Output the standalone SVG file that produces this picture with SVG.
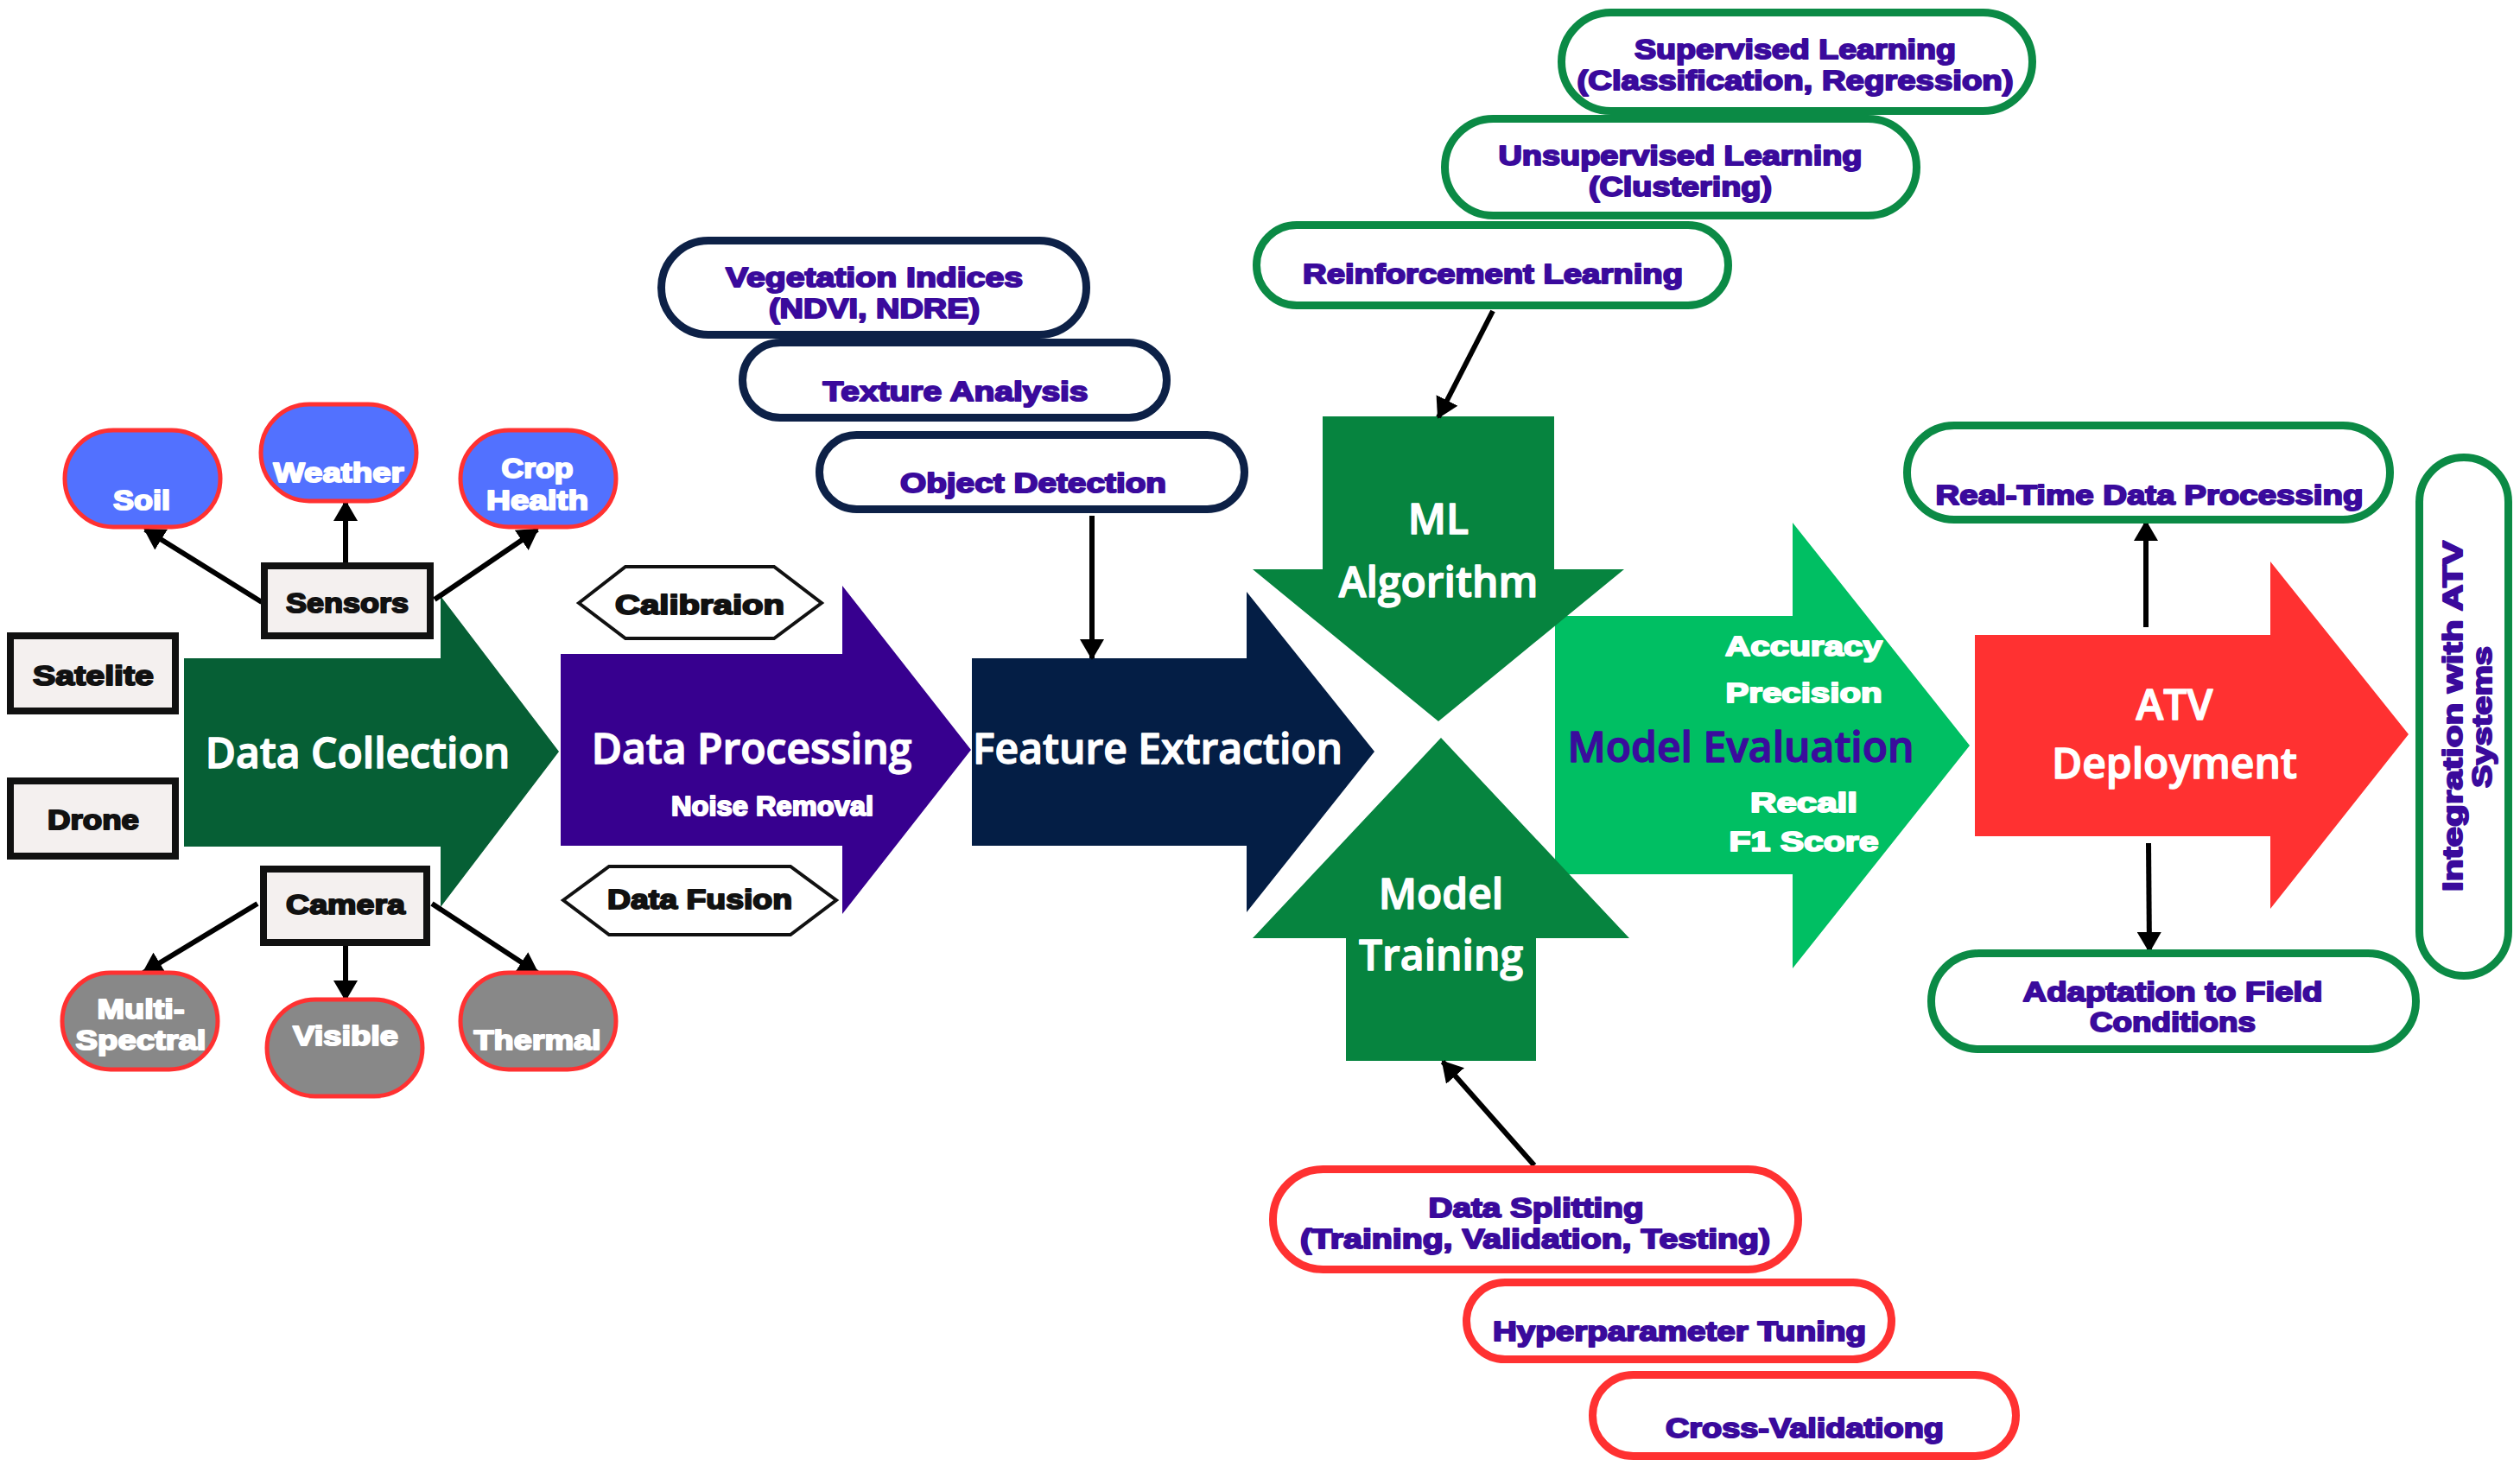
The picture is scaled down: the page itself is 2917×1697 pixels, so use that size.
<svg xmlns="http://www.w3.org/2000/svg" width="2917" height="1697" viewBox="0 0 2917 1697">
<defs>
<style>
.big{font-family:"Open Sans","Noto Sans","Liberation Sans",sans-serif;font-weight:600;font-size:48px;fill:#fff;stroke:#fff;stroke-width:1.4;stroke-linejoin:round;text-anchor:middle}
.hv{font-family:"Liberation Sans",Arial,sans-serif;font-weight:bold;font-size:32px;text-anchor:middle;stroke-width:2;stroke-linejoin:round}
.w{fill:#fff;stroke:#fff}
.k{fill:#111;stroke:#111}
.p{fill:#3A0A9C;stroke:#3A0A9C}
.blue{fill:#5271FF;stroke:#FF3131;stroke-width:5}
.gray{fill:#888888;stroke:#FF3131;stroke-width:5}
.box{fill:#F4F0EF;stroke:#111;stroke-width:8}
.hex{fill:#fff;stroke:#111;stroke-width:4}
.gp{fill:#fff;stroke:#0B8A45;stroke-width:9}
.np{fill:#fff;stroke:#0D2147;stroke-width:9}
.rp{fill:#fff;stroke:#FF3131;stroke-width:9}
.con{stroke:#000;stroke-width:6;fill:none;marker-end:url(#ah)}
</style>
<marker id="ah" markerUnits="userSpaceOnUse" viewBox="0 0 24 28" refX="22" refY="14" markerWidth="24" markerHeight="28" orient="auto">
<path d="M0,0 L24,14 L0,28 Z" fill="#000"/>
</marker>
</defs>
<rect width="2917" height="1697" fill="#fff"/>

<!-- main arrows -->
<g id="data-collection"><path d="M213,762 H510 V690 L647,870 L510,1050 V980 H213 Z" fill="#065F35"/><text class="big" x="414" y="889">Data Collection</text></g>
<g id="data-processing"><path d="M649,757 H975 V678 L1124,868 L975,1058 V979 H649 Z" fill="#37008F"/><text class="big" x="870" y="884">Data Processing</text><text class="hv w" x="894" y="944" font-size="30" textLength="234" lengthAdjust="spacingAndGlyphs">Noise Removal</text></g>
<g id="feature-extraction"><path d="M1125,762 H1443 V685 L1591,870 L1443,1056 V979 H1125 Z" fill="#041E45"/><text class="big" x="1340" y="884">Feature Extraction</text></g>
<g id="model-evaluation"><path d="M1800,713 H2075 V605 L2280,863 L2075,1121 V1012 H1800 Z" fill="#00BF63"/>
<text class="big" x="2015" y="882" style="fill:#3A0C9C;stroke:#3A0C9C">Model Evaluation</text>
<text class="hv w" x="2088" y="759" font-size="33" textLength="182" lengthAdjust="spacingAndGlyphs">Accuracy</text>
<text class="hv w" x="2088" y="813" font-size="33" textLength="181" lengthAdjust="spacingAndGlyphs">Precision</text>
<text class="hv w" x="2088" y="940" font-size="33" textLength="124" lengthAdjust="spacingAndGlyphs">Recall</text>
<text class="hv w" x="2088" y="985" font-size="33" textLength="173" lengthAdjust="spacingAndGlyphs">F1 Score</text></g>
<g id="ml-algorithm"><path d="M1531,482 H1799 V659 H1880 L1665,835 L1450,659 H1531 Z" fill="#06843F"/><text class="big" x="1665" y="618">ML</text><text class="big" x="1665" y="691">Algorithm</text></g>
<g id="model-training"><path d="M1668,854 L1886,1086 H1778 V1228 H1558 V1086 H1450 Z" fill="#06843F"/><text class="big" x="1668" y="1052">Model</text><text class="big" x="1668" y="1123">Training</text></g>
<g id="atv-deployment"><path d="M2286,735 H2628 V650 L2788,850 L2628,1052 V968 H2286 Z" fill="#FF3131"/><text class="big" x="2517" y="833">ATV</text><text class="big" x="2517" y="901">Deployment</text></g>

<!-- connectors -->
<g id="connectors">
<line class="con" x1="303" y1="697" x2="168" y2="613"/>
<line class="con" x1="400" y1="653" x2="400" y2="581"/>
<line class="con" x1="503" y1="694" x2="622" y2="613"/>
<line class="con" x1="298" y1="1046" x2="166" y2="1126"/>
<line class="con" x1="400" y1="1095" x2="400" y2="1157"/>
<line class="con" x1="500" y1="1046" x2="622" y2="1126"/>
<line class="con" x1="1264" y1="597" x2="1264" y2="762"/>
<line class="con" x1="1728" y1="360" x2="1665" y2="483"/>
<line class="con" x1="1776" y1="1349" x2="1670" y2="1229"/>
<line class="con" x1="2484" y1="726" x2="2484" y2="604"/>
<line class="con" x1="2487" y1="976" x2="2488" y2="1101"/>
</g>

<!-- sensors / camera -->
<g id="soil"><rect class="blue" x="75" y="498" width="180" height="112" rx="56"/><text class="hv w" x="164" y="590" textLength="66" lengthAdjust="spacingAndGlyphs">Soil</text></g>
<g id="weather"><rect class="blue" x="302" y="468" width="180" height="112" rx="56"/><text class="hv w" x="392" y="558" textLength="151" lengthAdjust="spacingAndGlyphs">Weather</text></g>
<g id="crop-health"><rect class="blue" x="533" y="498" width="180" height="112" rx="56"/><text class="hv w" x="622" y="553" textLength="83" lengthAdjust="spacingAndGlyphs">Crop</text><text class="hv w" x="622" y="590" textLength="118" lengthAdjust="spacingAndGlyphs">Health</text></g>
<g id="multi-spectral"><rect class="gray" x="72" y="1126" width="180" height="112" rx="56"/><text class="hv w" x="163" y="1179" textLength="101" lengthAdjust="spacingAndGlyphs">Multi-</text><text class="hv w" x="163" y="1215" textLength="151" lengthAdjust="spacingAndGlyphs">Spectral</text></g>
<g id="visible"><rect class="gray" x="309" y="1157" width="180" height="112" rx="56"/><text class="hv w" x="400" y="1210" textLength="122" lengthAdjust="spacingAndGlyphs">Visible</text></g>
<g id="thermal"><rect class="gray" x="533" y="1126" width="180" height="112" rx="56"/><text class="hv w" x="622" y="1215" textLength="147" lengthAdjust="spacingAndGlyphs">Thermal</text></g>
<g id="sensors"><rect class="box" x="306" y="655" width="192" height="81"/><text class="hv k" x="402" y="709" textLength="142" lengthAdjust="spacingAndGlyphs">Sensors</text></g>
<g id="satelite"><rect class="box" x="12" y="736" width="191" height="87"/><text class="hv k" x="108" y="793" textLength="140" lengthAdjust="spacingAndGlyphs">Satelite</text></g>
<g id="drone"><rect class="box" x="12" y="904" width="191" height="87"/><text class="hv k" x="108" y="960" textLength="106" lengthAdjust="spacingAndGlyphs">Drone</text></g>
<g id="camera"><rect class="box" x="305" y="1006" width="189" height="85"/><text class="hv k" x="400" y="1058" textLength="138" lengthAdjust="spacingAndGlyphs">Camera</text></g>

<!-- processing hexagons -->
<g id="calibraion"><polygon class="hex" points="670,698 724,656 896,656 951,698 896,739 724,739"/><text class="hv k" x="810" y="711" font-size="34" textLength="196" lengthAdjust="spacingAndGlyphs">Calibraion</text></g>
<g id="data-fusion"><polygon class="hex" points="652,1042 705,1003 915,1003 968,1042 915,1082 705,1082"/><text class="hv k" x="810" y="1052" font-size="34" textLength="214" lengthAdjust="spacingAndGlyphs">Data Fusion</text></g>

<!-- feature pills -->
<g id="vegetation-indices"><rect class="np" x="765.5" y="278.5" width="492" height="109" rx="54.5"/><text class="hv p" x="1012" y="332" textLength="344" lengthAdjust="spacingAndGlyphs">Vegetation Indices</text><text class="hv p" x="1012" y="368" textLength="244" lengthAdjust="spacingAndGlyphs">(NDVI, NDRE)</text></g>
<g id="texture-analysis"><rect class="np" x="859.5" y="396.5" width="491" height="87" rx="43.5"/><text class="hv p" x="1106" y="464" textLength="307" lengthAdjust="spacingAndGlyphs">Texture Analysis</text></g>
<g id="object-detection"><rect class="np" x="948.5" y="503.5" width="492" height="86" rx="43"/><text class="hv p" x="1196" y="570" textLength="308" lengthAdjust="spacingAndGlyphs">Object Detection</text></g>

<!-- ML pills -->
<g id="supervised"><rect class="gp" x="1807.5" y="14.5" width="545" height="114" rx="57"/><text class="hv p" x="2078" y="68" textLength="372" lengthAdjust="spacingAndGlyphs">Supervised Learning</text><text class="hv p" x="2078" y="104" textLength="505" lengthAdjust="spacingAndGlyphs">(Classification, Regression)</text></g>
<g id="unsupervised"><rect class="gp" x="1672.5" y="137.5" width="546" height="112" rx="56"/><text class="hv p" x="1945" y="191" textLength="421" lengthAdjust="spacingAndGlyphs">Unsupervised Learning</text><text class="hv p" x="1945" y="227" textLength="212" lengthAdjust="spacingAndGlyphs">(Clustering)</text></g>
<g id="reinforcement"><rect class="gp" x="1454.5" y="260.5" width="546" height="93" rx="46.5"/><text class="hv p" x="1728" y="328" textLength="440" lengthAdjust="spacingAndGlyphs">Reinforcement Learning</text></g>

<!-- training pills -->
<g id="data-splitting"><rect class="rp" x="1473.5" y="1353.5" width="608" height="116" rx="58"/><text class="hv p" x="1778" y="1409" textLength="249" lengthAdjust="spacingAndGlyphs">Data Splitting</text><text class="hv p" x="1777" y="1445" textLength="544" lengthAdjust="spacingAndGlyphs">(Training, Validation, Testing)</text></g>
<g id="hyperparameter"><rect class="rp" x="1697.5" y="1484.5" width="492" height="89" rx="44.5"/><text class="hv p" x="1944" y="1552" textLength="432" lengthAdjust="spacingAndGlyphs">Hyperparameter Tuning</text></g>
<g id="cross-validation"><rect class="rp" x="1843.5" y="1591.5" width="490" height="94" rx="47"/><text class="hv p" x="2089" y="1664" textLength="322" lengthAdjust="spacingAndGlyphs">Cross-Validationg</text></g>

<!-- deployment pills -->
<g id="real-time"><rect class="gp" x="2207.5" y="492.5" width="559" height="109" rx="54.5"/><text class="hv p" x="2488" y="584" textLength="495" lengthAdjust="spacingAndGlyphs">Real-Time Data Processing</text></g>
<g id="adaptation"><rect class="gp" x="2235.5" y="1103.5" width="561" height="111" rx="55.5"/><text class="hv p" x="2515" y="1159" textLength="347" lengthAdjust="spacingAndGlyphs">Adaptation to Field</text><text class="hv p" x="2515" y="1194" textLength="192" lengthAdjust="spacingAndGlyphs">Conditions</text></g>
<g id="integration"><rect class="gp" x="2800.5" y="529.5" width="103" height="600" rx="51.5"/><text class="hv p" transform="translate(2850,829) rotate(-90)" x="0" y="0" textLength="406" lengthAdjust="spacingAndGlyphs">Integration with ATV</text><text class="hv p" transform="translate(2884,830) rotate(-90)" x="0" y="0" textLength="164" lengthAdjust="spacingAndGlyphs">Systems</text></g>
</svg>
